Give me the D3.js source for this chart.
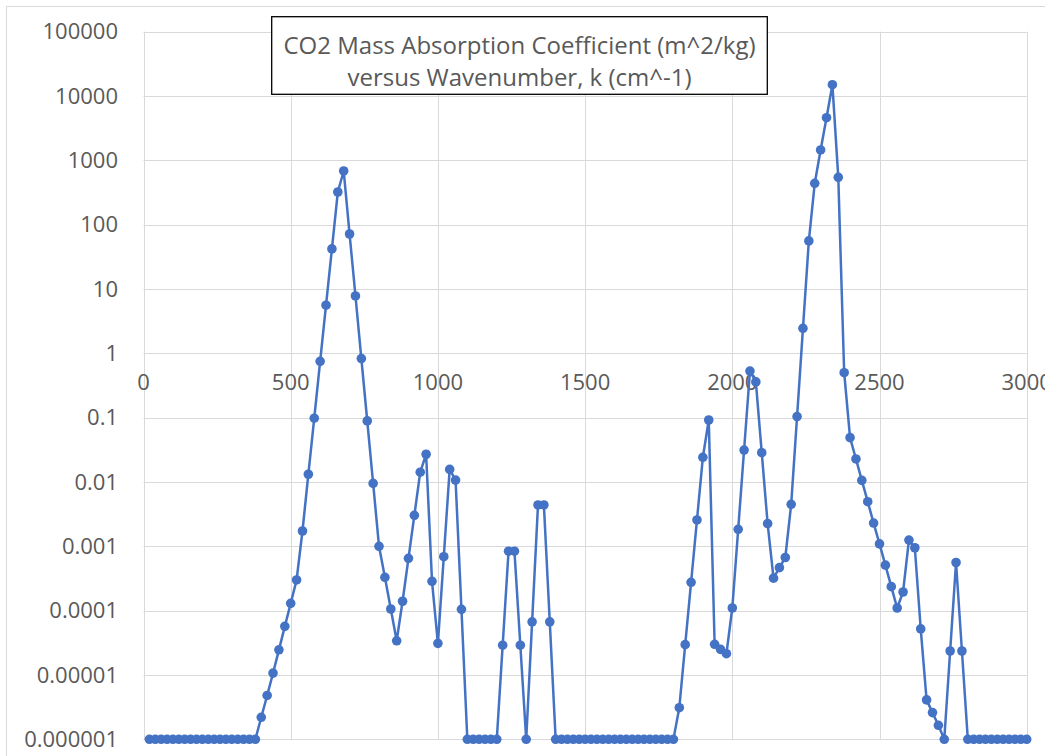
<!DOCTYPE html>
<html>
<head>
<meta charset="utf-8">
<script src="https://cdn.jsdelivr.net/npm/d3@7"></script>
<style>
  body { margin: 0; background: #fff; }
  svg { display: block; }
</style>
</head>
<body>
<svg id="chart"></svg>
<script>
const width = 1045
const height = 756

// wavenumber k (cm^-1), one point every 20
const wavenumbers = d3.range(20, 3001, 20)

// mass absorption coefficient (m^2/kg)
const absorption = [
  1e-6, 1e-6, 1e-6, 1e-6, 1e-6, 1e-6, 1e-6, 1e-6, 1e-6, 1e-6,   // 20-200
  1e-6, 1e-6, 1e-6, 1e-6, 1e-6, 1e-6, 1e-6, 1e-6, 1e-6,         // 220-380
  2.2e-6, 4.8e-6, 1.07e-5, 2.46e-5, 5.7e-5, 1.3e-4, 3.0e-4, 1.73e-3, 0.0132, 0.098,  // 400-580
  0.75, 5.6, 42, 322, 684, 71.6, 7.8, 0.83, 0.089, 0.0095,       // 600-780
  0.001, 3.3e-4, 1.06e-4, 3.4e-5, 1.4e-4, 6.5e-4, 3.03e-3, 0.0142, 0.027, 2.86e-4, // 800-980
  3.1e-5, 6.9e-4, 0.0157, 0.0107, 1.05e-4,                      // 1000-1080
  1e-6, 1e-6, 1e-6, 1e-6, 1e-6, 1e-6,                           // 1100-1200
  2.9e-5, 8.4e-4, 8.4e-4, 2.9e-5, 1e-6, 6.7e-5, 4.4e-3, 4.4e-3, 6.7e-5, // 1220-1380
  1e-6, 1e-6, 1e-6, 1e-6, 1e-6, 1e-6, 1e-6, 1e-6, 1e-6, 1e-6,   // 1400-1580
  1e-6, 1e-6, 1e-6, 1e-6, 1e-6, 1e-6, 1e-6, 1e-6, 1e-6, 1e-6, 1e-6, // 1600-1800
  3.1e-6, 2.96e-5, 2.76e-4, 2.57e-3, 0.0242, 0.092, 3.0e-5, 2.5e-5, 2.14e-5, 1.1e-4, // 1820-2000
  1.84e-3, 0.0314, 0.53, 0.36, 0.0286, 2.25e-3, 3.2e-4, 4.66e-4, 6.7e-4, 4.5e-3,   // 2020-2200
  0.104, 2.45, 56, 440, 1450, 4600, 15000, 545, 0.5, 0.0489,     // 2220-2400
  0.0228, 0.0106, 4.94e-3, 2.3e-3, 1.09e-3, 5.1e-4, 2.36e-4, 1.1e-4, 1.95e-4, 1.25e-3, // 2420-2600
  9.5e-4, 5.2e-5, 4.1e-6, 2.6e-6, 1.65e-6, 1e-6, 2.36e-5, 5.6e-4, 2.36e-5,        // 2620-2780
  1e-6, 1e-6, 1e-6, 1e-6, 1e-6, 1e-6, 1e-6, 1e-6, 1e-6, 1e-6, 1e-6 // 2800-3000
]

const xTicks = [0, 500, 1000, 1500, 2000, 2500, 3000]
const yTicks = [1e-6, 1e-5, 1e-4, 1e-3, 0.01, 0.1, 1, 10, 100, 1000, 10000, 100000]
const yTickLabels = ["0.000001", "0.00001", "0.0001", "0.001", "0.01", "0.1", "1", "10", "100", "1000", "10000", "100000"]
const titleLines = ["CO2 Mass Absorption Coefficient (m^2/kg)", "versus Wavenumber, k (cm^-1)"]

const font = "'Open Sans', sans-serif"
const labelColor = "#595959"
const gridColor = "#d9d9d9"
const blue = "#4472C4"

const svg = d3.select("#chart")
            .attr("width", width)
            .attr("height", height)

// chart area border
svg.append("rect")
   .attr("x", 6.5).attr("y", 6.5)
   .attr("width", width + 20).attr("height", height + 20)
   .attr("fill", "#fff")
   .attr("stroke", gridColor)

const x = d3.scaleLinear().domain([0, 3000]).range([143.5, 1026.7])
const y = d3.scaleLog().domain([1e-6, 1e5]).range([739.3, 31.7])

// gridlines
svg.append("g")
   .selectAll("line")
   .data(yTicks)
   .enter()
   .append("line")
   .attr("x1", x(0)).attr("x2", x(3000))
   .attr("y1", d => Math.round(y(d)) + 0.5)
   .attr("y2", d => Math.round(y(d)) + 0.5)
   .attr("stroke", gridColor)

svg.append("g")
   .selectAll("line")
   .data(xTicks)
   .enter()
   .append("line")
   .attr("x1", d => Math.round(x(d)) + 0.5)
   .attr("x2", d => Math.round(x(d)) + 0.5)
   .attr("y1", y(1e5)).attr("y2", y(1e-6))
   .attr("stroke", gridColor)

// y tick labels
svg.append("g")
   .selectAll("text")
   .data(yTicks)
   .enter()
   .append("text")
   .attr("x", 118)
   .attr("y", d => y(d))
   .attr("dy", "0.35em")
   .attr("text-anchor", "end")
   .attr("font-family", font)
   .attr("font-size", 22)
   .attr("fill", labelColor)
   .text((d, i) => yTickLabels[i])

// x axis crosses at y = 1, labels under it
svg.append("g")
   .selectAll("text")
   .data(xTicks)
   .enter()
   .append("text")
   .attr("x", d => x(d))
   .attr("y", y(1) + 37)
   .attr("text-anchor", "middle")
   .attr("font-family", font)
   .attr("font-size", 22)
   .attr("fill", labelColor)
   .text(d => d)

const points = wavenumbers.map((k, i) => ({k: k, v: absorption[i]}))

const line = d3.line()
               .x(d => x(d.k))
               .y(d => y(d.v))

svg.append("path")
   .datum(points)
   .attr("d", line)
   .attr("fill", "none")
   .attr("stroke", blue)
   .attr("stroke-width", 2.5)
   .attr("stroke-linejoin", "round")

svg.append("g")
   .selectAll("circle")
   .data(points)
   .enter()
   .append("circle")
   .attr("cx", d => x(d.k))
   .attr("cy", d => y(d.v))
   .attr("r", 4.8)
   .attr("fill", blue)

// title box
svg.append("rect")
   .attr("x", 271.7).attr("y", 16.7)
   .attr("width", 495.6).attr("height", 77.6)
   .attr("fill", "#fff")
   .attr("stroke", "#000")
   .attr("stroke-width", 1.3)

svg.append("g")
   .selectAll("text")
   .data(titleLines)
   .enter()
   .append("text")
   .attr("x", 519.5)
   .attr("y", (d, i) => 54 + i * 32)
   .attr("text-anchor", "middle")
   .attr("font-family", font)
   .attr("font-size", 24)
   .attr("fill", labelColor)
   .text(d => d)
</script>
</body>
</html>
